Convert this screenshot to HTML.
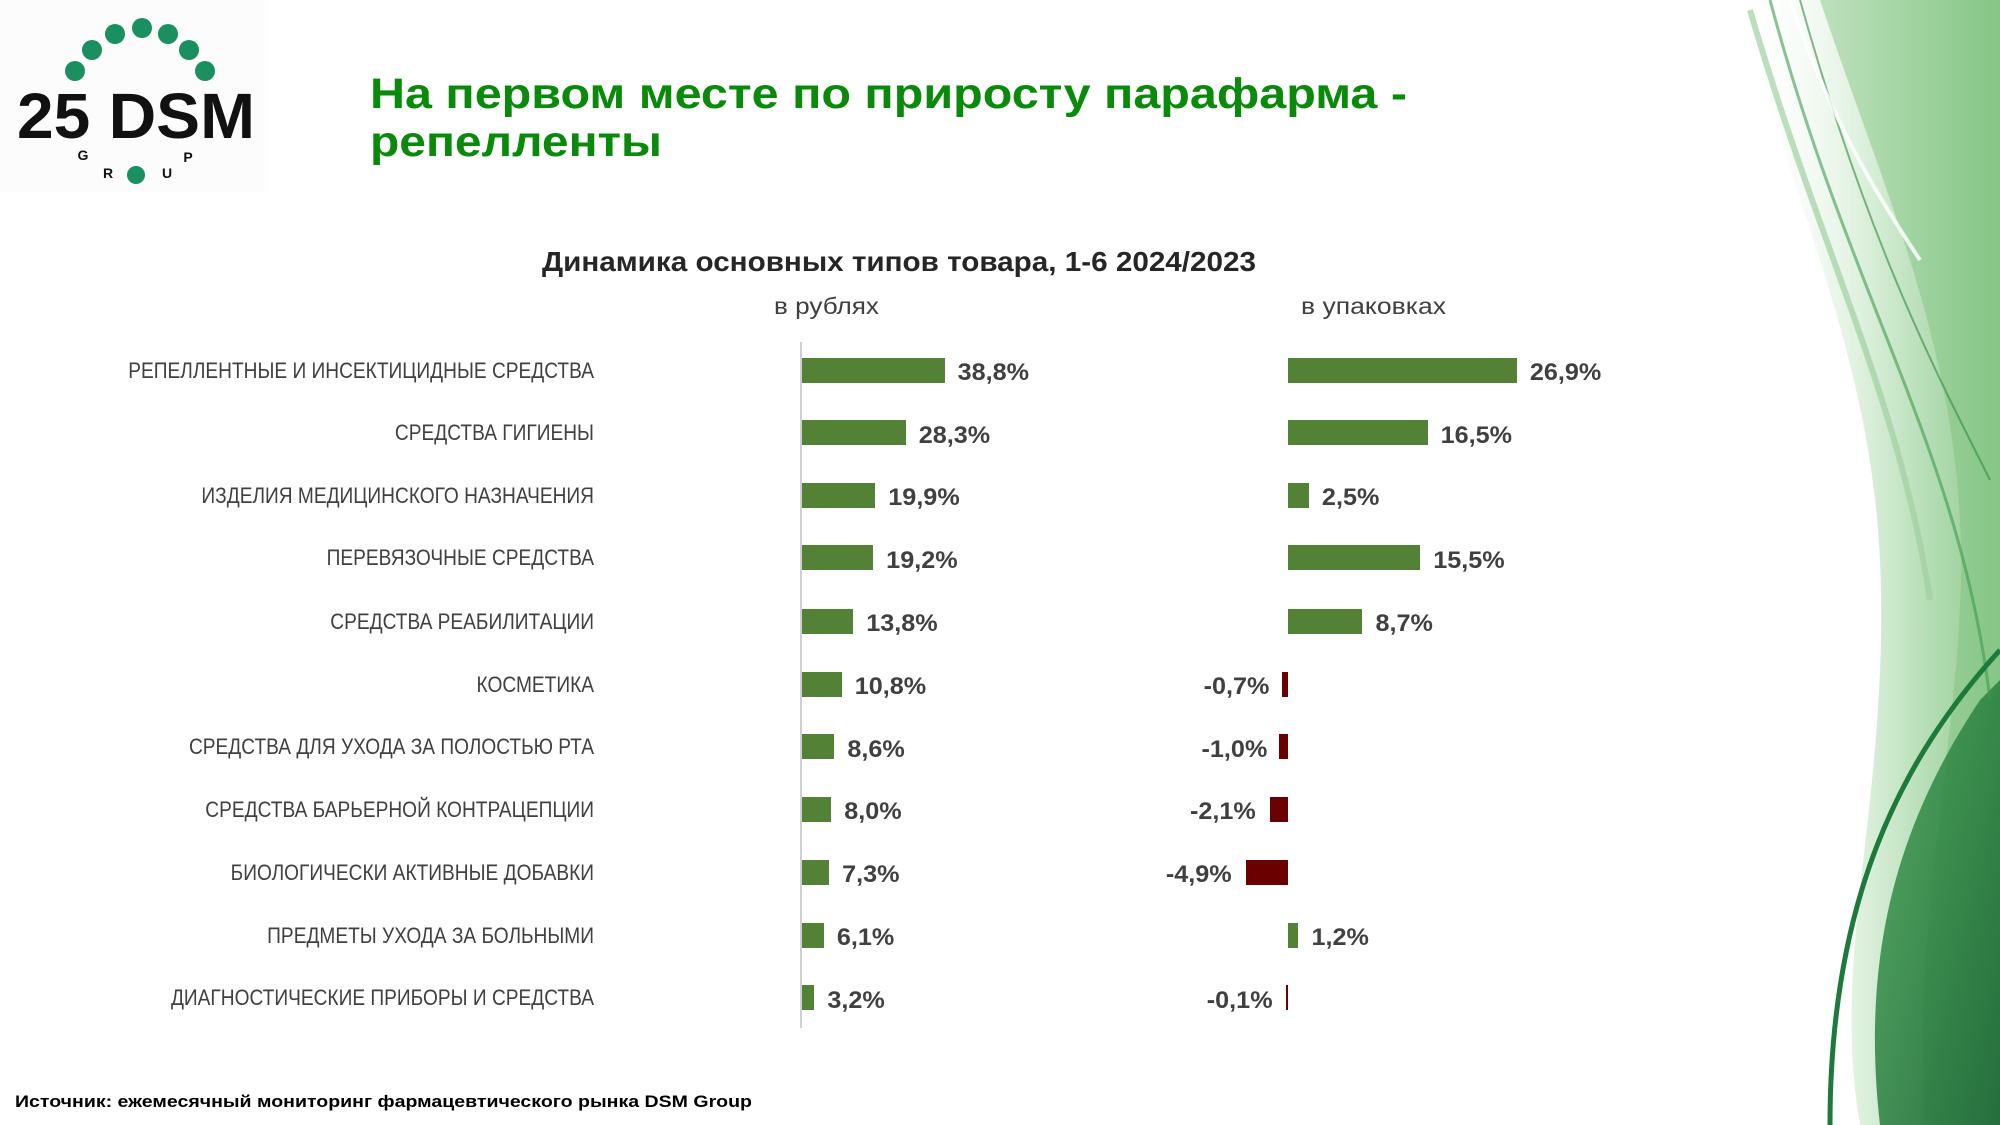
<!DOCTYPE html>
<html><head><meta charset="utf-8"><style>
html,body{margin:0;padding:0;background:#fff;}
svg{display:block;}
</style></head><body>
<svg width="2000" height="1125" viewBox="0 0 2000 1125" xmlns="http://www.w3.org/2000/svg" font-family="Liberation Sans, DejaVu Sans, sans-serif">
<defs>
<linearGradient id="bg" x1="0" y1="0" x2="1" y2="0">
<stop offset="0" stop-color="#ffffff" stop-opacity="0"/>
<stop offset="0.5" stop-color="#d8eed8"/>
<stop offset="1" stop-color="#8cc98c"/>
</linearGradient>
<linearGradient id="g2" x1="0" y1="0" x2="1" y2="1">
<stop offset="0" stop-color="#3f9f4f"/>
<stop offset="1" stop-color="#145f30"/>
</linearGradient>
</defs>
<!-- decorative swirl -->
<path d="M1740,0 C1790,200 1870,350 1880,560 C1890,800 1830,950 1860,1125 L2000,1125 L2000,0 Z" fill="url(#bg)"/>
<path d="M1820,0 C1880,180 1950,330 1960,520 C1970,700 1910,900 1925,1125 L2000,1125 L2000,0 Z" fill="#7cc27c" opacity="0.45"/>
<path d="M1880,1125 C1860,950 1900,820 1980,700 L2000,680 L2000,1125 Z" fill="url(#g2)" opacity="0.85"/>
<path d="M1750,10 C1820,250 1900,400 1930,600" stroke="#9fd09f" stroke-width="6" fill="none" opacity="0.7"/>
<path d="M1770,0 C1850,300 1960,450 1990,700" stroke="#3d9b4d" stroke-width="3" fill="none" opacity="0.6"/>
<path d="M1800,0 C1870,250 1940,380 1990,480" stroke="#2e8b3e" stroke-width="2" fill="none" opacity="0.6"/>
<path d="M1830,1125 C1830,900 1900,760 2000,650" stroke="#1d7a3a" stroke-width="5" fill="none"/>
<path d="M1790,0 C1830,120 1880,200 1920,260" stroke="#ffffff" stroke-width="4" fill="none" opacity="0.8"/>

<!-- logo -->
<rect x="0" y="0" width="268" height="192" fill="#fcfcfc"/>
<g fill="#1a9060">
<ellipse cx="75" cy="71" rx="10" ry="10"/>
<ellipse cx="92" cy="50" rx="10" ry="10"/>
<ellipse cx="115" cy="34" rx="10" ry="10"/>
<ellipse cx="142" cy="28" rx="10" ry="10"/>
<ellipse cx="168" cy="34" rx="10" ry="10"/>
<ellipse cx="189" cy="50" rx="10" ry="10"/>
<ellipse cx="205" cy="71" rx="10" ry="10"/>
<ellipse cx="136" cy="175" rx="9" ry="9"/>
</g>
<text x="17" y="138" font-size="64" font-weight="bold" fill="#111" textLength="238" lengthAdjust="spacingAndGlyphs">25 DSM</text>
<g font-size="14" font-weight="bold" fill="#111" text-anchor="middle">
<text x="83" y="160">G</text><text x="108" y="178">R</text><text x="167" y="178">U</text><text x="188" y="162">P</text>
</g>

<!-- title -->
<g font-size="43" font-weight="bold" fill="#0a8a0a">
<text x="370" y="108" textLength="1037" lengthAdjust="spacingAndGlyphs">На первом месте по приросту парафарма -</text>
<text x="370" y="156" textLength="292" lengthAdjust="spacingAndGlyphs">репелленты</text>
</g>

<text x="899" y="271" font-size="28" font-weight="bold" fill="#262626" text-anchor="middle" textLength="714" lengthAdjust="spacingAndGlyphs">Динамика основных типов товара, 1-6 2024/2023</text>
<text x="774" y="314" font-size="23" fill="#404040" textLength="105" lengthAdjust="spacingAndGlyphs">в рублях</text>
<text x="1301" y="314" font-size="23" fill="#404040" textLength="145" lengthAdjust="spacingAndGlyphs">в упаковках</text>

<!-- axis -->
<line x1="801" y1="342" x2="801" y2="1028" stroke="#d0d0d0" stroke-width="2"/>

<!-- row labels -->
<g transform="translate(594,0) scale(0.87,1)" font-size="22" fill="#404040" text-anchor="end">
<text x="0" y="378">РЕПЕЛЛЕНТНЫЕ И ИНСЕКТИЦИДНЫЕ СРЕДСТВА</text>
<text x="0" y="440">СРЕДСТВА ГИГИЕНЫ</text>
<text x="0" y="503">ИЗДЕЛИЯ МЕДИЦИНСКОГО НАЗНАЧЕНИЯ</text>
<text x="0" y="565">ПЕРЕВЯЗОЧНЫЕ СРЕДСТВА</text>
<text x="0" y="629">СРЕДСТВА РЕАБИЛИТАЦИИ</text>
<text x="0" y="692">КОСМЕТИКА</text>
<text x="0" y="754">СРЕДСТВА ДЛЯ УХОДА ЗА ПОЛОСТЬЮ РТА</text>
<text x="0" y="817">СРЕДСТВА БАРЬЕРНОЙ КОНТРАЦЕПЦИИ</text>
<text x="0" y="880">БИОЛОГИЧЕСКИ АКТИВНЫЕ ДОБАВКИ</text>
<text x="0" y="943">ПРЕДМЕТЫ УХОДА ЗА БОЛЬНЫМИ</text>
<text x="0" y="1005">ДИАГНОСТИЧЕСКИЕ ПРИБОРЫ И СРЕДСТВА</text>
</g>

<!-- left bars -->
<g fill="#538135">
<rect x="802" y="358" width="143" height="25"/>
<rect x="802" y="420" width="104" height="25"/>
<rect x="802" y="483" width="73" height="25"/>
<rect x="802" y="545" width="71" height="25"/>
<rect x="802" y="609" width="51" height="25"/>
<rect x="802" y="672" width="40" height="25"/>
<rect x="802" y="734" width="32" height="25"/>
<rect x="802" y="797" width="29" height="25"/>
<rect x="802" y="860" width="27" height="25"/>
<rect x="802" y="923" width="22" height="25"/>
<rect x="802" y="985" width="12" height="25"/>
</g>
<g font-size="24" font-weight="bold" fill="#404040" transform="scale(1.05,1)">
<text x="912" y="380">38,8%</text>
<text x="875" y="443">28,3%</text>
<text x="846" y="505">19,9%</text>
<text x="844" y="568">19,2%</text>
<text x="825" y="631">13,8%</text>
<text x="814" y="694">10,8%</text>
<text x="807" y="757">8,6%</text>
<text x="804" y="819">8,0%</text>
<text x="802" y="882">7,3%</text>
<text x="797" y="945">6,1%</text>
<text x="788" y="1008">3,2%</text>
</g>

<!-- right bars -->
<g fill="#538135">
<rect x="1288" y="358" width="229" height="25"/>
<rect x="1288" y="420" width="140" height="25"/>
<rect x="1288" y="483" width="21" height="25"/>
<rect x="1288" y="545" width="132" height="25"/>
<rect x="1288" y="609" width="74" height="25"/>
<rect x="1288" y="923" width="10" height="25"/>
</g>
<g fill="#6b0000">
<rect x="1282" y="672" width="6" height="25"/>
<rect x="1279" y="734" width="9" height="25"/>
<rect x="1270" y="797" width="18" height="25"/>
<rect x="1246" y="860" width="42" height="25"/>
<rect x="1286" y="985" width="2" height="25"/>
</g>
<g font-size="24" font-weight="bold" fill="#404040" transform="scale(1.05,1)">
<text x="1457" y="380">26,9%</text>
<text x="1372" y="443">16,5%</text>
<text x="1259" y="505">2,5%</text>
<text x="1365" y="568">15,5%</text>
<text x="1310" y="631">8,7%</text>
<text x="1249" y="945">1,2%</text>
</g>
<g font-size="24" font-weight="bold" fill="#404040" text-anchor="end" transform="scale(1.05,1)">
<text x="1209" y="694">-0,7%</text>
<text x="1207" y="757">-1,0%</text>
<text x="1196" y="819">-2,1%</text>
<text x="1173" y="882">-4,9%</text>
<text x="1212" y="1008">-0,1%</text>
</g>

<text x="15" y="1107" font-size="17" font-weight="bold" fill="#000" textLength="737" lengthAdjust="spacingAndGlyphs">Источник: ежемесячный мониторинг фармацевтического рынка DSM Group</text>
</svg>
</body></html>
